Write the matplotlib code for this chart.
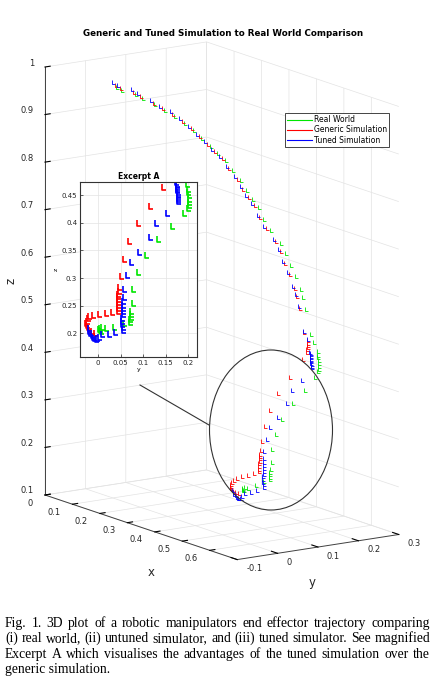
import numpy as np
import matplotlib
matplotlib.use('Agg')
import matplotlib.pyplot as plt
from matplotlib.path import Path
from matplotlib.lines import Line2D
from matplotlib.patches import Ellipse
from mpl_toolkits.mplot3d import proj3d

# end effector positions (x, y, z)
real_x = [0.106, 0.117, 0.155, 0.170, 0.206, 0.232, 0.258, 0.284, 0.307, 0.326, 0.348, 0.361, 0.382, 0.395, 0.418,
          0.429, 0.438, 0.452, 0.461, 0.475, 0.499, 0.508, 0.515, 0.523, 0.532, 0.529, 0.530, 0.538, 0.539,
          0.550, 0.550, 0.550, 0.550, 0.550, 0.550, 0.550, 0.550,
          0.552, 0.554, 0.556, 0.558, 0.560, 0.561, 0.562,
          0.563, 0.563, 0.563, 0.563, 0.563,
          0.564, 0.564, 0.564,
          0.565, 0.565, 0.565, 0.565, 0.565]
real_y = [0.005, 0.012, 0.019, 0.026, 0.033, 0.040, 0.047, 0.054, 0.061, 0.068, 0.075, 0.082, 0.089, 0.096, 0.102,
          0.109, 0.116, 0.123, 0.130, 0.137, 0.144, 0.151, 0.158, 0.165, 0.172, 0.179, 0.186, 0.193, 0.200,
          0.201, 0.202, 0.203, 0.204, 0.205, 0.205, 0.204, 0.203,
          0.193, 0.167, 0.136, 0.108, 0.090, 0.081, 0.079,
          0.076, 0.075, 0.075, 0.074, 0.074,
          0.060, 0.038, 0.019,
          0.010, 0.007, 0.005, 0.006, 0.009]
real_z = [0.965, 0.960, 0.958, 0.952, 0.944, 0.936, 0.928, 0.918, 0.906, 0.892, 0.879, 0.866, 0.853, 0.835, 0.816,
          0.797, 0.779, 0.764, 0.740, 0.719, 0.695, 0.675, 0.650, 0.628, 0.600, 0.582, 0.556, 0.505, 0.487,
          0.470, 0.462, 0.456, 0.450, 0.444, 0.438, 0.432, 0.427,
          0.417, 0.394, 0.370, 0.341, 0.311, 0.281, 0.254,
          0.240, 0.235, 0.230, 0.225, 0.220,
          0.218, 0.212, 0.209,
          0.212, 0.210, 0.208, 0.206, 0.205]

generic_x = [0.118, 0.129, 0.170, 0.185, 0.223, 0.249, 0.278, 0.304, 0.327, 0.347, 0.371, 0.385, 0.406, 0.422,
             0.445, 0.456, 0.468, 0.482, 0.493, 0.507, 0.534, 0.543, 0.550, 0.561, 0.570, 0.568, 0.571, 0.576,
             0.578, 0.578, 0.578, 0.578, 0.578, 0.578,
             0.577, 0.573, 0.570, 0.568, 0.567, 0.566, 0.566,
             0.565, 0.565, 0.565, 0.565, 0.565, 0.565, 0.565, 0.565,
             0.565, 0.565, 0.565, 0.565,
             0.565, 0.565, 0.565, 0.565, 0.565, 0.565, 0.565, 0.565, 0.565]
generic_y = [-0.005, 0.001, 0.006, 0.012, 0.018, 0.024, 0.029, 0.035, 0.041, 0.047, 0.052, 0.058, 0.064, 0.069,
             0.075, 0.081, 0.086, 0.092, 0.098, 0.104, 0.109, 0.115, 0.121, 0.126, 0.132, 0.138, 0.143, 0.149,
             0.158, 0.158, 0.157, 0.157, 0.156, 0.155,
             0.147, 0.118, 0.090, 0.070, 0.060, 0.053, 0.049,
             0.048, 0.047, 0.047, 0.047, 0.046, 0.046, 0.046, 0.046,
             0.033, 0.019, 0.004, -0.009,
             -0.017, -0.021, -0.023, -0.024, -0.023, -0.021, -0.017, -0.011, -0.005]
generic_z = [0.973, 0.968, 0.967, 0.961, 0.953, 0.945, 0.938, 0.928, 0.916, 0.903, 0.890, 0.878, 0.865, 0.847,
             0.828, 0.809, 0.792, 0.777, 0.754, 0.733, 0.710, 0.690, 0.665, 0.643, 0.615, 0.598, 0.572, 0.522,
             0.503, 0.498, 0.494, 0.490, 0.486, 0.480,
             0.465, 0.431, 0.400, 0.367, 0.334, 0.303, 0.284,
             0.277, 0.272, 0.267, 0.262, 0.257, 0.252, 0.246, 0.241,
             0.239, 0.237, 0.235, 0.233,
             0.231, 0.227, 0.223, 0.219, 0.215, 0.211, 0.207, 0.204, 0.201]

tuned_x = [0.105, 0.117, 0.155, 0.171, 0.207, 0.232, 0.259, 0.285, 0.308, 0.327, 0.349, 0.363, 0.384, 0.397, 0.419,
           0.431, 0.441, 0.454, 0.464, 0.478, 0.502, 0.511, 0.519, 0.527, 0.535, 0.535, 0.538, 0.545, 0.550,
           0.560, 0.560, 0.560, 0.560, 0.560, 0.560, 0.560, 0.560, 0.560, 0.560, 0.560, 0.560,
           0.561, 0.562, 0.562, 0.563, 0.563, 0.564, 0.564, 0.564,
           0.565, 0.565, 0.565, 0.565, 0.565, 0.565, 0.565, 0.565, 0.565, 0.565,
           0.565, 0.565, 0.565,
           0.565, 0.565, 0.565, 0.565, 0.565, 0.565, 0.565, 0.565, 0.565]
tuned_y = [-0.004, 0.002, 0.009, 0.015, 0.022, 0.028, 0.035, 0.041, 0.047, 0.054, 0.060, 0.067, 0.073, 0.080, 0.086,
           0.092, 0.099, 0.105, 0.112, 0.118, 0.125, 0.131, 0.137, 0.144, 0.150, 0.157, 0.163, 0.170, 0.176,
           0.176, 0.177, 0.177, 0.178, 0.178, 0.178, 0.179, 0.179, 0.179, 0.180, 0.180, 0.180,
           0.155, 0.130, 0.118, 0.093, 0.075, 0.067, 0.060, 0.059,
           0.058, 0.058, 0.057, 0.057, 0.057, 0.056, 0.056, 0.056, 0.057, 0.058,
           0.041, 0.027, 0.012,
           0.004, 0.000, -0.003, -0.006, -0.009, -0.012, -0.015, -0.017, -0.018]
tuned_z = [0.976, 0.971, 0.969, 0.963, 0.955, 0.947, 0.939, 0.929, 0.917, 0.903, 0.890, 0.877, 0.864, 0.846, 0.827,
           0.808, 0.790, 0.775, 0.751, 0.730, 0.706, 0.686, 0.661, 0.639, 0.611, 0.593, 0.567, 0.516, 0.498,
           0.474, 0.471, 0.468, 0.465, 0.462, 0.459, 0.456, 0.453, 0.450, 0.447, 0.443, 0.440,
           0.418, 0.400, 0.374, 0.347, 0.329, 0.305, 0.281, 0.266,
           0.258, 0.252, 0.246, 0.240, 0.234, 0.228, 0.222, 0.216, 0.211, 0.206,
           0.202, 0.199, 0.198,
           0.194, 0.191, 0.190, 0.191, 0.194, 0.197, 0.201, 0.205, 0.209]

series_names = ['Real World', 'Generic Simulation', 'Tuned Simulation']
series_colors = ['#00e600', '#ff0000', '#0000ff']

x_ticks = [0, 0.1, 0.2, 0.3, 0.4, 0.5, 0.6]
x_ticklabels = ['0', '0.1', '0.2', '0.3', '0.4', '0.5', '0.6']
y_ticks = [-0.1, 0, 0.1, 0.2, 0.3]
y_ticklabels = ['-0.1', '0', '0.1', '0.2', '0.3']
z_ticks = [0.1, 0.2, 0.3, 0.4, 0.5, 0.6, 0.7, 0.8, 0.9, 1.0]
z_ticklabels = ['0.1', '0.2', '0.3', '0.4', '0.5', '0.6', '0.7', '0.8', '0.9', '1']
inset_xticks = [0, 0.05, 0.1, 0.15, 0.2]
inset_xticklabels = ['0', '0.05', '0.1', '0.15', '0.2']
inset_yticks = [0.2, 0.25, 0.3, 0.35, 0.4, 0.45]
inset_yticklabels = ['0.2', '0.25', '0.3', '0.35', '0.4', '0.45']

caption_lines = [
    'Fig. 1.  3D plot of a robotic manipulators end effector trajectory comparing',
    '(i) real world, (ii) untuned simulator, and (iii) tuned simulator. See magnified',
    'Excerpt A which visualises the advantages of the tuned simulation over the',
    'generic simulation.',
]

W, H = 436, 680
axis_col = '#262626'
grid_col = '#e3e3e3'

# "L" shaped pose marker
L_marker = Path([(-0.3, 0.5), (-0.3, -0.5), (0.35, -0.5)],
                [Path.MOVETO, Path.LINETO, Path.LINETO])

fig = plt.figure(figsize=(W / 100, H / 100), dpi=100)
ax = fig.add_axes([0.0, 0.1, 1.0, 0.85], projection='3d', proj_type='ortho', computed_zorder=False)
ax.view_init(elev=13.2, azim=-34.2)
ax.set_xlim(0, 0.7)
ax.set_ylim(-0.1, 0.3)
ax.set_zlim(0.1, 1.0)
zoom = 1.0
ax.set_box_aspect((0.7, 0.4, 0.9), zoom=zoom)

data = [(real_x, real_y, real_z), (generic_x, generic_y, generic_z), (tuned_x, tuned_y, tuned_z)]
for (xs, ys, zs), col in zip(data, series_colors):
    ax.plot(xs, ys, zs, ls='none', marker=L_marker, ms=3.2, mew=0.6, mfc='none', color=col, clip_on=False)

# tick labels are written by hand further down, at the projected tick positions
ax.set_xticks(x_ticks, [''] * len(x_ticks))
ax.set_yticks(y_ticks, [''] * len(y_ticks))
ax.set_zticks(z_ticks, [''] * len(z_ticks))
ax.zaxis.set_ticks_position('lower')
for a in (ax.xaxis, ax.yaxis, ax.zaxis):
    a.set_pane_color((1, 1, 1, 0))
    a.pane.set_edgecolor(grid_col)
    a._axinfo['grid'].update(color=grid_col, linewidth=0.5)
    a._axinfo['tick'].update(inward_factor=0.0, outward_factor=0.4)
    a.line.set_color('#404040')
    a.line.set_linewidth(0.7)


def to_px(px, py, pz, redraw=True):
    if redraw:
        fig.canvas.draw()
    u, v, _ = proj3d.proj_transform(px, py, pz, ax.M)
    return ax.transData.transform((u, v))


# fit the box onto the reference layout
a0 = to_px(0, -0.1, 0.1)
a1 = to_px(0, -0.1, 1.0)
zoom *= (495 - 67) / (a1[1] - a0[1])
ax.set_box_aspect((0.7, 0.4, 0.9), zoom=zoom)
a0 = to_px(0, -0.1, 0.1)
pos = ax.get_position()
ax.set_position([pos.x0 + (45 - a0[0]) / W, pos.y0 + (H - 495 - a0[1]) / H, pos.width, pos.height])
fig.canvas.draw()

tick_font = dict(fontsize=6, color=axis_col)
for t, lab in zip(x_ticks, x_ticklabels):
    p = to_px(t, -0.1, 0.1, redraw=False)
    fig.text((p[0] - 12) / W, (p[1] - 8) / H, lab, ha='right', va='center', **tick_font)
for t, lab in zip(y_ticks, y_ticklabels):
    p = to_px(0.7, t, 0.1, redraw=False)
    fig.text((p[0] + 9) / W, (p[1] - 9) / H, lab, ha='left', va='center', **tick_font)
for t, lab in zip(z_ticks, z_ticklabels):
    p = to_px(0, -0.1, t, redraw=False)
    fig.text((p[0] - 11) / W, (p[1] + 4) / H, lab, ha='right', va='center', **tick_font)

lab_font = dict(fontsize=8.5, color=axis_col, ha='center', va='center')
p = to_px(0.35, -0.1, 0.1, redraw=False)
fig.text((p[0] + 10) / W, (p[1] - 45) / H, 'x', **lab_font)
p = to_px(0.7, 0.1, 0.1, redraw=False)
fig.text((p[0] - 6) / W, (p[1] - 35) / H, 'y', **lab_font)
p = to_px(0, -0.1, 0.55, redraw=False)
fig.text((p[0] - 34) / W, p[1] / H, 'z', rotation=90, **lab_font)

fig.text(223 / W, 1 - 34 / H, 'Generic and Tuned Simulation to Real World Comparison',
         ha='center', va='center', fontsize=6.3, fontweight='bold', color='black')

handles = [Line2D([], [], color=c, lw=0.8) for c in series_colors]
leg = fig.legend(handles, series_names, loc='upper left', bbox_to_anchor=(285 / W, 1 - 113 / H),
                 fontsize=5.5, frameon=True, fancybox=False, edgecolor=axis_col, framealpha=1,
                 handlelength=3.2, handletextpad=0.3, borderpad=0.3, labelspacing=0.15, borderaxespad=0)
leg.get_frame().set_linewidth(0.6)

# Excerpt A
axin = fig.add_axes([80 / W, 1 - 357 / H, 117 / W, 175 / H])
for (xs, ys, zs), col in zip(data, series_colors):
    axin.plot(ys, zs, ls='none', marker=L_marker, ms=4.3, mew=1.2, mfc='none', color=col)
axin.set_xlim(-0.04, 0.22)
axin.set_ylim(0.157, 0.474)
axin.set_xticks(inset_xticks, inset_xticklabels)
axin.set_yticks(inset_yticks, inset_yticklabels)
axin.tick_params(direction='in', length=2, width=0.5, labelsize=5, colors=axis_col, pad=2)
axin.grid(True, color=grid_col, lw=0.5)
axin.set_axisbelow(True)
for s in axin.spines.values():
    s.set_color('#333333')
    s.set_linewidth(0.8)
axin.set_title('Excerpt A', fontsize=5.5, fontweight='bold', pad=2)
axin.set_xlabel('y', fontsize=4.5, labelpad=1)
axin.set_ylabel('z', fontsize=4.5, labelpad=2)

fig.add_artist(Ellipse((271 / W, 1 - 430 / H), 123 / W, 160 / H, transform=fig.transFigure,
                       fill=False, ec='#333333', lw=0.8))
fig.add_artist(Line2D([140 / W, 209 / W], [1 - 385 / H, 1 - 425 / H], transform=fig.transFigure,
                      color='#333333', lw=0.8))

# justified caption, font sized so the short last line is ~104 px wide
renderer = fig.canvas.get_renderer()
cap_left, cap_right = 5, 430
probe = fig.text(0, 0, caption_lines[-1], family='Liberation Serif', fontsize=10)
cap_size = 10 * 104 / probe.get_window_extent(renderer).width
probe.remove()
cap_font = dict(family='Liberation Serif', fontsize=cap_size, color='black', va='baseline')
for i, line in enumerate(caption_lines):
    yb = 1 - (627 + 15.3 * i) / H
    if i == len(caption_lines) - 1:
        fig.text(cap_left / W, yb, line, ha='left', **cap_font)
        continue
    words = line.split()
    texts = [fig.text(0, yb, w, ha='left', **cap_font) for w in words]
    widths = [t.get_window_extent(renderer).width for t in texts]
    gap = (cap_right - cap_left - sum(widths)) / (len(words) - 1)
    xpos = cap_left
    for t, w in zip(texts, widths):
        t.set_x(xpos / W)
        xpos += w + gap

fig.savefig('out.png', dpi=100)
